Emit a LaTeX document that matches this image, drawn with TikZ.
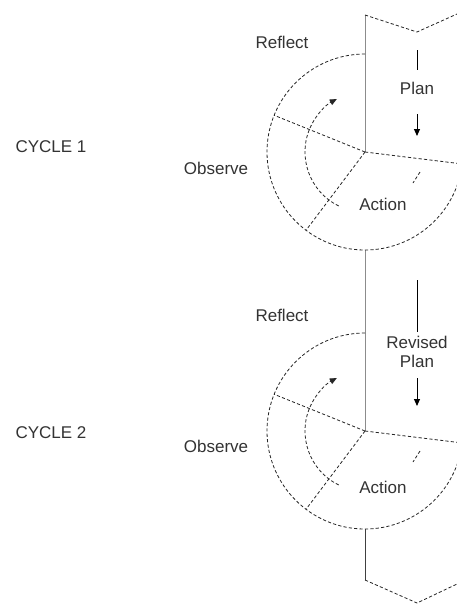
\documentclass[tikz,border=0pt]{standalone}
\usepackage{fontspec}
\setmainfont{Liberation Sans}
\usetikzlibrary{arrows.meta,calc}
\begin{document}
\begin{tikzpicture}[x=1pt,y=-1pt,
  lbl/.style={font=\fontsize{17}{19}\selectfont, text=black!80, inner sep=0pt, align=center},
  dsh/.style={line width=0.8pt, dash pattern=on 3.2pt off 2.2pt, black!85},
  spine/.style={line width=0.6pt, black!45},
  solidln/.style={line width=1pt, black},
  arr/.style={line width=1pt, black, -{Triangle[length=7pt,width=6pt]}}]
\useasboundingbox (0,0) rectangle (457,606);
\clip (0,0) rectangle (457,606);
\fill[white] (0,0) rectangle (457,606);
% centers
\coordinate (c1) at (365,152);
\coordinate (c2) at (365,431);
% spine
\coordinate (sTop) at (365,15);
\coordinate (sB1) at (365,250);
\coordinate (sB2) at (365,529);
\coordinate (sBot) at (365,580);
\draw[spine] (sTop) -- (c1);
\draw[spine] (sB1) -- (c2);
\draw[line width=0.8pt, black!75] (sB2) -- (sBot);
% top chevron
\coordinate (tMid) at (417,32);
\coordinate (tR) at (457,14);
\draw[dsh] (sTop) -- (tMid) -- (tR);
% bottom chevron
\coordinate (bMid) at (417,603);
\coordinate (bR) at (457,584);
\draw[dsh] (sBot) -- (bMid) -- (bR);
% cycles (y axis points down, so angles are negated)
\foreach \c in {c1,c2}{
  \draw[dsh] ($(\c)+(-90:98)$) arc[start angle=-90,end angle=-353,radius=98];
  \draw[dsh] (\c) -- ++(-158:98);
  \draw[dsh] (\c) -- ++(-233:98);
  \draw[dsh] (\c) -- ++(7:100);
  \draw[dsh,-{Triangle[length=7pt,width=6pt]}] ($(\c)+(-244:60)$) arc[start angle=-244,end angle=-118,radius=60];
  \draw[dsh] ($(\c)+(55,20)$) -- ++(-7,11);
}
% labels cycle 1
\node[lbl] (cy1) at (51,147) {CYCLE 1};
\node[lbl] (rf1) at (282,42) {Reflect};
\node[lbl] (ob1) at (216,168) {Observe};
\node[lbl] (ac1) at (383,204) {Action};
\node[lbl] (pl1) at (417,88) {Plan};
\coordinate (p1a) at (417,50);
\coordinate (p1b) at (417,70);
\draw[solidln] (p1a) -- (p1b);
\coordinate (p1c) at (417,114);
\coordinate (p1d) at (417,136);
\draw[arr] (p1c) -- (p1d);
% labels cycle 2
\node[lbl] (cy2) at (51,433) {CYCLE 2};
\node[lbl] (rf2) at (282,315) {Reflect};
\node[lbl] (ob2) at (216,446) {Observe};
\node[lbl] (ac2) at (383,487) {Action};
\node[lbl] (pl2) at (417,352) {Revised\\[0pt]Plan};
\coordinate (p2a) at (417,280);
\coordinate (p2b) at (417,332);
\draw[solidln] (p2a) -- (p2b);
\coordinate (p2c) at (417,378);
\coordinate (p2d) at (417,406);
\draw[arr] (p2c) -- (p2d);
\end{tikzpicture}
\end{document}
